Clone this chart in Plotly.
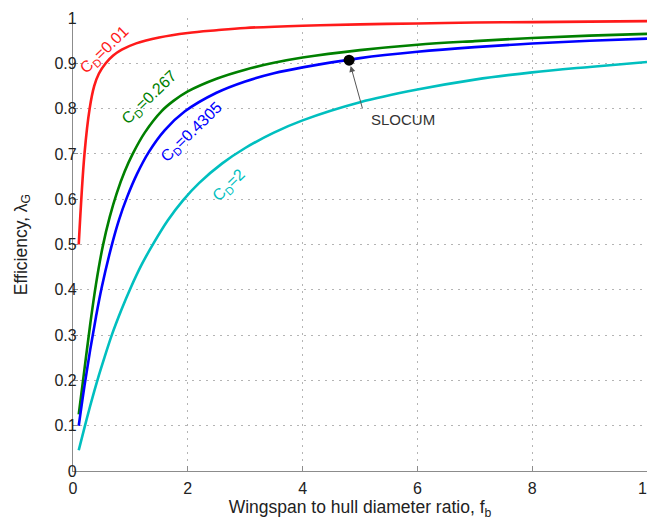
import plotly.graph_objects as go

# ---- data ----
f_red = [0.1, 0.2, 0.29, 0.37, 0.45, 0.57, 0.7, 0.85, 1.1, 1.5, 2, 2.5, 3, 4, 5, 6, 7, 8, 9, 10]
eff_red = [0.5, 0.7, 0.8, 0.85, 0.877, 0.9, 0.917, 0.93, 0.944, 0.957, 0.967, 0.973, 0.978, 0.983, 0.986, 0.988, 0.990, 0.991, 0.992, 0.993]

f_green = [0.1, 0.2, 0.3, 0.4, 0.52, 0.64, 0.76, 0.9, 1.04, 1.25, 1.54, 1.75, 2, 2.5, 3, 3.5, 4, 5, 6, 7, 8, 9, 10]
eff_green = [0.125, 0.225, 0.324, 0.412, 0.497, 0.561, 0.6125, 0.661, 0.7, 0.747, 0.794, 0.817, 0.838, 0.866, 0.886, 0.901, 0.9126, 0.929, 0.941, 0.949, 0.956, 0.961, 0.965]

f_blue = [0.1, 0.2, 0.3, 0.4, 0.5, 0.67, 0.8, 0.94, 1.12, 1.32, 1.6, 1.95, 2.5, 3, 3.5, 4, 5, 6, 7, 8, 9, 10]
eff_blue = [0.1, 0.188, 0.268, 0.34, 0.405, 0.496, 0.554, 0.604, 0.657, 0.704, 0.7525, 0.794, 0.835, 0.860, 0.878, 0.891, 0.9115, 0.9255, 0.9357, 0.9436, 0.9497, 0.9545]

f_cyan = [0.1, 0.2, 0.3, 0.43, 0.55, 0.68, 0.84, 1.0, 1.2, 1.4, 1.65, 1.92, 2.2, 2.6, 3, 3.5, 4, 5, 6, 7, 8, 9, 10]
eff_cyan = [0.0458, 0.0958, 0.144, 0.2024, 0.2512, 0.3016, 0.3549, 0.403, 0.4565, 0.502, 0.553, 0.598, 0.636, 0.679, 0.713, 0.747, 0.774, 0.814, 0.842, 0.864, 0.880, 0.892, 0.903]

series_names = ["C<sub>D</sub>=0.01", "C<sub>D</sub>=0.267", "C<sub>D</sub>=0.4305", "C<sub>D</sub>=2"]
label_f = [0.55, 1.34, 2.07, 2.72]
label_eff = [0.928, 0.825, 0.747, 0.631]

slocum_f = [4.81]
slocum_eff = [0.907]
slocum_label = "SLOCUM"

x_ticks = [0, 2, 4, 6, 8, 10]
y_ticks = [0, 0.1, 0.2, 0.3, 0.4, 0.5, 0.6, 0.7, 0.8, 0.9, 1]

colors = ["#ff1a1a", "#008000", "#0000ff", "#00bfbf"]
FONT = "Liberation Sans, Arial, Helvetica, sans-serif"

fig = go.Figure()
for fx, ey, c in zip([f_red, f_green, f_blue, f_cyan], [eff_red, eff_green, eff_blue, eff_cyan], colors):
    fig.add_trace(go.Scatter(x=fx, y=ey, mode="lines",
                             line=dict(color=c, width=2.6, shape="spline", smoothing=1.0),
                             showlegend=False, hoverinfo="skip"))

fig.add_trace(go.Scatter(x=slocum_f, y=slocum_eff, mode="markers",
                         marker=dict(color="black", size=11), showlegend=False))

for name, lx, ly, c in zip(series_names, label_f, label_eff, colors):
    fig.add_annotation(x=lx, y=ly, text=name, showarrow=False, textangle=-44,
                       font=dict(family=FONT, size=16, color=c))

# arrow from label to SLOCUM point
fig.add_annotation(x=slocum_f[0], y=slocum_eff[0], ax=5.05, ay=0.797,
                   axref="x", ayref="y", text="", showarrow=True,
                   arrowhead=2, arrowsize=1.2, arrowwidth=1, arrowcolor="#555555",
                   standoff=6)
fig.add_annotation(x=5.75, y=0.776, text=slocum_label, showarrow=False,
                   font=dict(family=FONT, size=15, color="#333333"))

axis_common = dict(
    showline=True, linecolor="#8c8c8c", linewidth=1.2,
    ticks="inside", ticklen=5, tickcolor="#8c8c8c",
    showgrid=True, gridcolor="#b4b4b4", gridwidth=1, griddash="2px,5px",
    zeroline=False, tickfont=dict(family=FONT, size=16, color="#222222"),
    mirror=False, ticklabeloverflow="allow",
)

fig.update_xaxes(range=[0, 10], tickvals=x_ticks, ticktext=[str(v) for v in x_ticks],
                 ticklabelstandoff=3,
                 title=dict(text="Wingspan to hull diameter ratio, f<sub>b</sub>",
                            font=dict(family=FONT, size=17.5, color="#222222"), standoff=4),
                 **axis_common)
fig.update_yaxes(range=[0, 1], tickvals=y_ticks, ticktext=["0"] + [f"{v:g}" for v in y_ticks[1:]],
                 ticklabelstandoff=-8,
                 title=dict(text="Efficiency, λ<sub>G</sub>",
                            font=dict(family=FONT, size=17.5, color="#222222"), standoff=22),
                 **axis_common)

# the page body adds an 8px offset, so the figure is sized/margined to compensate
fig.update_layout(width=647, height=512,
                  margin=dict(l=65, r=8, t=10, b=49, autoexpand=False),
                  plot_bgcolor="white", paper_bgcolor="white",
                  font=dict(family=FONT))

fig.write_html("out.html")
